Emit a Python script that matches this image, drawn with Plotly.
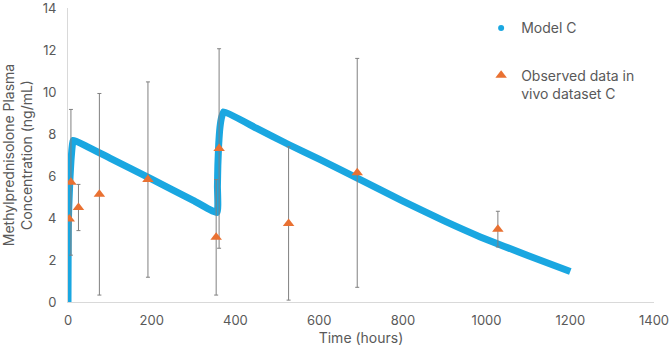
import plotly.graph_objects as go

# Model C curve
model_t = [0, 0.3, 0.7, 1.5, 3, 5, 7, 9, 11, 13, 100, 200, 300, 356,
           357, 358, 360, 363, 367, 372, 450, 527, 600, 691, 800, 900, 985, 1100, 1200]
model_c = [0, 2.0, 3.4, 4.3, 5.1, 6.0, 6.7, 7.2, 7.55, 7.7, 6.85, 5.85, 4.83, 4.26,
           5.5, 6.5, 7.5, 8.3, 8.8, 9.06, 8.28, 7.5, 6.8, 5.9, 4.8, 3.85, 3.1, 2.2, 1.45]

# Observed data in vivo dataset C
obs_t = [3, 7, 25, 75, 191, 354, 361, 527, 691, 1027]
obs_c = [3.95, 5.7, 4.5, 5.13, 5.83, 3.08, 7.31, 3.74, 6.15, 3.47]
obs_err = [0, 3.47, 1.1, 4.8, 4.65, 2.75, 4.75, 3.65, 5.45, 0.85]

BLUE = "#1AA7E1"
ORANGE = "#E97132"
TXT = "#595959"
FONT = "Inter"

fig = go.Figure()
fig.add_trace(go.Scatter(
    x=model_t, y=model_c, mode="lines",
    line=dict(color=BLUE, width=7, shape="spline", smoothing=0.4),
    showlegend=False, legendgroup="m", hoverinfo="skip"))
fig.add_trace(go.Scatter(
    x=[None], y=[None], mode="markers", name="Model C", legendgroup="m",
    marker=dict(color=BLUE, size=6, symbol="circle")))
fig.add_trace(go.Scatter(
    x=obs_t, y=obs_c, mode="markers", name="Observed data in<br>vivo dataset C",
    legendgroup="o",
    marker=dict(color=ORANGE, size=10, symbol="triangle-up"),
    error_y=dict(type="data", array=obs_err, visible=True, color="#808080",
                 thickness=1, width=2)))

fig.update_layout(
    width=669, height=350,
    margin=dict(l=68, r=15, t=8, b=48),
    paper_bgcolor="white", plot_bgcolor="white",
    font=dict(family=FONT, color=TXT, size=13),
    legend=dict(x=0.705, y=0.985, xanchor="left", yanchor="top",
                font=dict(size=14, color=TXT), tracegroupgap=26,
                traceorder="grouped", bgcolor="rgba(0,0,0,0)",
                itemwidth=30, valign="top"),
    xaxis=dict(range=[0, 1400], tickvals=[0, 200, 400, 600, 800, 1000, 1200, 1400],
               showgrid=False, zeroline=False, ticklabeloverflow="allow",
               automargin=False,
               showline=True, linecolor="#D9D9D9", linewidth=1, ticks="",
               tickfont=dict(size=13, color=TXT), ticklabelstandoff=6,
               title=dict(text="Time (hours)", font=dict(size=14, color=TXT), standoff=6)),
    yaxis=dict(range=[0, 14], tickvals=[0, 2, 4, 6, 8, 10, 12, 14],
               showgrid=False, zeroline=False, ticklabeloverflow="allow",
               automargin=False,
               showline=True, linecolor="#D9D9D9", linewidth=1, ticks="",
               tickfont=dict(size=13, color=TXT), ticklabelstandoff=8,
               title=dict(text="Methylprednisolone Plasma<br>Concentration (ng/mL)",
                          font=dict(size=14, color=TXT), standoff=6)),
)

fig.write_html("out.html")
